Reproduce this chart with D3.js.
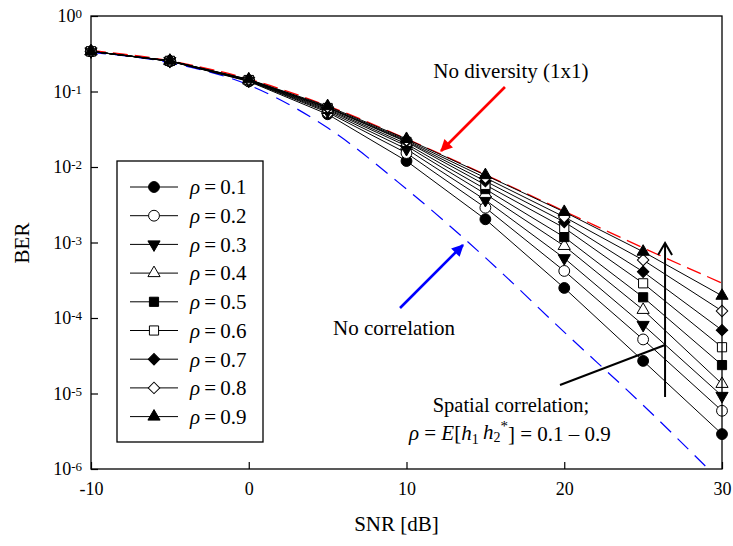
<!DOCTYPE html>
<html>
<head>
<meta charset="utf-8">
<script src="https://cdn.jsdelivr.net/npm/d3@7"></script>
<style>
  html, body { margin: 0; padding: 0; background: #fff; }
  svg { display: block; }
  svg text { font-family: "Liberation Serif", "Times New Roman", serif; }
</style>
</head>
<body>
<div id="chart"></div>
<script>
// SNR grid (dB) shared by every curve
const snrDb = [-10, -5, 0, 5, 10, 15, 20, 25, 30];

// BER per correlation coefficient
const rhoLabels = ["0.1", "0.2", "0.3", "0.4", "0.5", "0.6", "0.7", "0.8", "0.9"];
const berRho01 = [0.34, 0.252, 0.136, 0.050, 0.0120, 0.00203, 0.00025, 2.7e-5, 2.9e-6];
const berRho02 = [0.34, 0.252, 0.138, 0.053, 0.0153, 0.00289, 0.00042, 5.2e-5, 5.9e-6];
const berRho03 = [0.34, 0.253, 0.139, 0.055, 0.0173, 0.00366, 0.00062, 8.1e-5, 9.3e-6];
const berRho04 = [0.34, 0.253, 0.140, 0.057, 0.0190, 0.00440, 0.00090, 1.28e-4, 1.34e-5];
const berRho05 = [0.34, 0.254, 0.141, 0.0587, 0.0202, 0.00510, 0.00118, 1.88e-4, 2.38e-5];
const berRho06 = [0.34, 0.254, 0.142, 0.0605, 0.0215, 0.00580, 0.00156, 2.88e-4, 4.1e-5];
const berRho07 = [0.34, 0.255, 0.143, 0.0613, 0.0220, 0.00650, 0.00187, 4.1e-4, 6.9e-5];
const berRho08 = [0.34, 0.255, 0.144, 0.0623, 0.0227, 0.00720, 0.00218, 5.86e-4, 1.24e-4];
const berRho09 = [0.34, 0.256, 0.145, 0.0640, 0.0235, 0.00780, 0.00254, 7.55e-4, 1.97e-4];

// reference curves
const berNoDiversity = [0.35, 0.255, 0.146, 0.0645, 0.0236, 0.0079, 0.0026, 0.00085, 0.00029];
const berNoCorrelation = [0.33, 0.24, 0.122, 0.033, 0.0051, 6.3e-4, 6.5e-5, 7.0e-6, 6.6e-7];

// axes
const xTickValues = [-10, 0, 10, 20, 30];
const yTickExponents = [0, -1, -2, -3, -4, -5, -6];

(function () {
  "use strict";

  const W = 733, H = 546;
  const margin = { top: 16, right: 11, bottom: 77, left: 91 };
  const iw = W - margin.left - margin.right;
  const ih = H - margin.top - margin.bottom;
  const RED = "#ff0000", BLUE = "#0000ff", INK = "#000";
  const SERIF = "Liberation Serif, Times New Roman, serif";

  const rhoSeries = [berRho01, berRho02, berRho03, berRho04, berRho05,
                     berRho06, berRho07, berRho08, berRho09];
  // marker per series: shape + filled/open
  const markerStyle = [
    { shape: "circle", filled: true }, { shape: "circle", filled: false },
    { shape: "triDown", filled: true }, { shape: "triUp", filled: false },
    { shape: "square", filled: true }, { shape: "square", filled: false },
    { shape: "diamond", filled: true }, { shape: "diamond", filled: false },
    { shape: "triUp", filled: true },
  ];

  function markerPath(shape) {
    switch (shape) {
      case "circle": return d3.symbol(d3.symbolCircle, 92)();
      case "square": return d3.symbol(d3.symbolSquare, 84)();
      case "diamond": return d3.symbol(d3.symbolSquare, 66)();
      default: return d3.symbol(d3.symbolTriangle, 64)();
    }
  }
  function markerRotate(shape) {
    if (shape === "diamond") return 45;
    if (shape === "triDown") return 180;
    return 0;
  }
  function drawMarker(sel, style, cx, cy) {
    sel.append("path")
      .attr("d", markerPath(style.shape))
      .attr("transform", `translate(${cx},${cy}) rotate(${markerRotate(style.shape)})`)
      .attr("fill", style.filled ? INK : "#fff")
      .attr("stroke", INK)
      .attr("stroke-width", 1);
  }

  const svg = d3.select("#chart").append("svg")
    .attr("width", W).attr("height", H)
    .attr("viewBox", `0 0 ${W} ${H}`)
    .attr("font-family", SERIF);

  const defs = svg.append("defs");
  defs.append("clipPath").attr("id", "plot-clip")
    .append("rect").attr("width", iw).attr("height", ih);
  [["arrow-red", RED], ["arrow-blue", BLUE]].forEach(([id, c]) => {
    defs.append("marker").attr("id", id)
      .attr("viewBox", "0 0 10 10").attr("refX", 9).attr("refY", 5)
      .attr("markerUnits", "userSpaceOnUse")
      .attr("markerWidth", 15).attr("markerHeight", 12)
      .attr("orient", "auto")
      .append("path").attr("d", "M0,0 L10,5 L0,10 Z").attr("fill", c);
  });

  const g = svg.append("g").attr("transform", `translate(${margin.left},${margin.top})`);

  const x = d3.scaleLinear().domain([-10, 30]).range([0, iw]);
  const y = d3.scaleLog().domain([1e-6, 1]).range([ih, 0]);

  // axes: inward ticks, frame drawn separately
  const gx = g.append("g").attr("transform", `translate(0,${ih})`)
    .call(d3.axisBottom(x).tickValues(xTickValues).tickSize(-7).tickPadding(13)
      .tickFormat((d) => String(d)));
  gx.attr("font-family", SERIF).select(".domain").remove();
  gx.selectAll(".tick line").attr("stroke", INK).attr("stroke-width", 1.2);
  gx.selectAll(".tick text").attr("font-size", 18).attr("fill", INK);

  const gy = g.append("g")
    .call(d3.axisLeft(y).tickValues(yTickExponents.map((e) => Math.pow(10, e)))
      .tickSize(-7).tickPadding(9).tickFormat(""));
  gy.attr("font-family", SERIF).select(".domain").remove();
  gy.selectAll(".tick line").attr("stroke", INK).attr("stroke-width", 1.2);
  gy.selectAll(".tick text").each(function (d, i) {
    const t = d3.select(this).attr("font-size", 18).attr("fill", INK);
    t.text("10");
    t.append("tspan").attr("dy", "-0.3em").attr("font-size", 13)
      .text(String(yTickExponents[i]));
  });

  // curves
  const plot = g.append("g").attr("clip-path", "url(#plot-clip)");
  const smooth = d3.line().x((d) => x(d[0])).y((d) => y(d[1])).curve(d3.curveMonotoneX);
  const straight = d3.line().x((d) => x(d[0])).y((d) => y(d[1]));

  plot.append("path")
    .attr("d", smooth(snrDb.map((s, i) => [s, berNoCorrelation[i]])))
    .attr("fill", "none").attr("stroke", BLUE).attr("stroke-width", 1.2)
    .attr("stroke-dasharray", "15,9");

  plot.append("path")
    .attr("d", smooth(snrDb.map((s, i) => [s, berNoDiversity[i]])))
    .attr("fill", "none").attr("stroke", RED).attr("stroke-width", 1.3)
    .attr("stroke-dasharray", "15,7");

  rhoSeries.forEach((ber) => {
    plot.append("path")
      .attr("d", straight(snrDb.map((s, i) => [s, ber[i]])))
      .attr("fill", "none").attr("stroke", INK).attr("stroke-width", 1);
  });

  const markerLayer = g.append("g");
  rhoSeries.forEach((ber, k) => {
    snrDb.forEach((s, i) => drawMarker(markerLayer, markerStyle[k], x(s), y(ber[i])));
  });

  // frame
  g.append("rect").attr("width", iw).attr("height", ih)
    .attr("fill", "none").attr("stroke", INK).attr("stroke-width", 1.3);

  // annotations, anchored in data coordinates
  const ann = g.append("g").attr("font-size", 21).attr("fill", INK).attr("font-family", SERIF);
  const P = (snr, logBer) => [x(snr), y(Math.pow(10, logBer))];

  let p = P(16.62, -0.725);
  ann.append("text").attr("x", p[0]).attr("y", p[1]).attr("dy", "0.35em")
    .attr("text-anchor", "middle").text("No diversity (1x1)");
  let a = P(16.24, -0.94), b = P(12.19, -1.788);
  ann.append("line").attr("x1", a[0]).attr("y1", a[1]).attr("x2", b[0]).attr("y2", b[1])
    .attr("stroke", RED).attr("stroke-width", 2.6).attr("marker-end", "url(#arrow-red)");

  p = P(9.21, -4.132);
  ann.append("text").attr("x", p[0]).attr("y", p[1]).attr("dy", "0.35em")
    .attr("text-anchor", "middle").text("No correlation");
  a = P(9.59, -3.868); b = P(13.58, -3.033);
  ann.append("line").attr("x1", a[0]).attr("y1", a[1]).attr("x2", b[0]).attr("y2", b[1])
    .attr("stroke", BLUE).attr("stroke-width", 2.6).attr("marker-end", "url(#arrow-blue)");

  p = P(16.62, -5.152);
  ann.append("text").attr("x", p[0]).attr("y", p[1]).attr("dy", "0.35em")
    .attr("text-anchor", "middle").attr("font-size", 20.5).text("Spatial correlation;");

  p = P(16.55, -5.523);
  const f = ann.append("text").attr("x", p[0]).attr("y", p[1]).attr("dy", "0.35em")
    .attr("text-anchor", "middle").attr("font-size", 21);
  f.append("tspan").attr("font-style", "italic").text("\u03c1");
  f.append("tspan").text(" = ");
  f.append("tspan").attr("font-style", "italic").text("E");
  f.append("tspan").text("[");
  f.append("tspan").attr("font-style", "italic").text("h");
  f.append("tspan").attr("font-size", 14).attr("dy", "0.25em").text("1");
  f.append("tspan").attr("font-style", "italic").attr("dy", "-0.25em").text("\u2009h");
  f.append("tspan").attr("font-size", 14).attr("dy", "0.25em").text("2");
  f.append("tspan").attr("font-size", 15).attr("dy", "-0.75em").text("*");
  f.append("tspan").attr("dy", "0.5em").text("] = 0.1 \u2013 0.9");

  a = P(19.73, -4.887); b = P(26.39, -4.358);
  ann.append("line").attr("x1", a[0]).attr("y1", a[1]).attr("x2", b[0]).attr("y2", b[1])
    .attr("stroke", INK).attr("stroke-width", 2);

  a = P(26.39, -5.046); b = P(26.39, -3.007);
  ann.append("line").attr("x1", a[0]).attr("y1", a[1]).attr("x2", b[0]).attr("y2", b[1])
    .attr("stroke", INK).attr("stroke-width", 2);
  ann.append("path")
    .attr("d", `M${b[0] - 7},${b[1] + 12} L${b[0]},${b[1]} L${b[0] + 7},${b[1] + 12}`)
    .attr("fill", "none").attr("stroke", INK).attr("stroke-width", 2);

  // axis titles
  svg.append("text").attr("x", margin.left + iw / 2 - 10).attr("y", 531)
    .attr("text-anchor", "middle").attr("font-size", 21).text("SNR [dB]");
  svg.append("text").attr("transform", "translate(29,243) rotate(-90)")
    .attr("text-anchor", "middle").attr("font-size", 21).text("BER");

  // legend
  const leg = svg.append("g").attr("font-family", SERIF);
  leg.append("rect").attr("x", 117).attr("y", 161).attr("width", 146).attr("height", 281)
    .attr("fill", "#fff").attr("stroke", INK).attr("stroke-width", 1.3);
  rhoLabels.forEach((lab, k) => {
    const ry = 187 + k * 28.7;
    leg.append("line").attr("x1", 130).attr("x2", 178).attr("y1", ry).attr("y2", ry)
      .attr("stroke", INK).attr("stroke-width", 1);
    drawMarker(leg, markerStyle[k], 154, ry);
    const t = leg.append("text").attr("x", 190).attr("y", ry).attr("dy", "0.35em")
      .attr("font-size", 21);
    t.append("tspan").attr("font-style", "italic").text("\u03c1");
    t.append("tspan").text("\u2009=\u2009" + lab);
  });
})();
</script>
</body>
</html>
